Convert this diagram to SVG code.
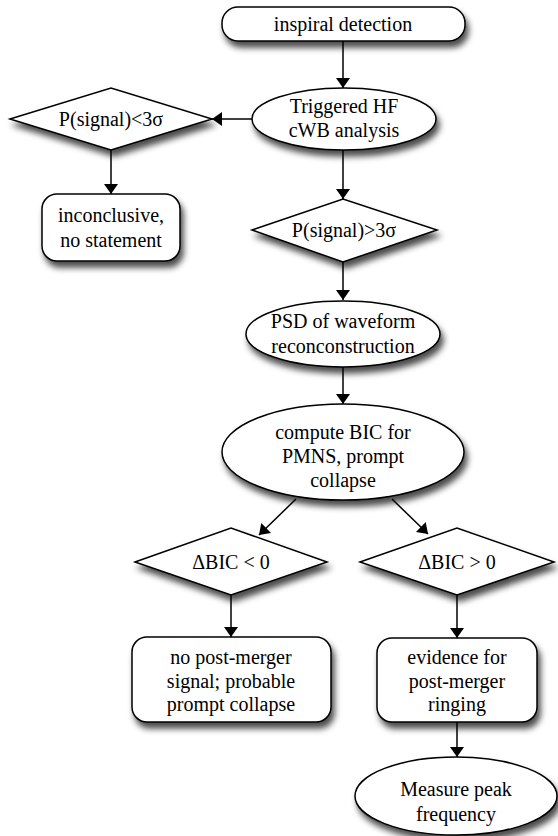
<svg xmlns="http://www.w3.org/2000/svg" width="558" height="836" viewBox="0 0 558 836">
<defs>
<filter id="sh" x="-20%" y="-20%" width="150%" height="160%">
<feDropShadow dx="3" dy="6" stdDeviation="3" flood-color="#000" flood-opacity="0.7"/>
</filter>
<marker id="ah" markerWidth="10" markerHeight="14" refX="10" refY="7" orient="auto" markerUnits="userSpaceOnUse" viewBox="0 0 10 14">
<path d="M0,0 L10,7 L0,14 z" fill="#000"/>
</marker>
</defs>
<style>
.n{fill:#fff;stroke:#000;stroke-width:1.5;filter:url(#sh)}
text{font-family:'Liberation Serif','Times New Roman','DejaVu Serif',serif;font-size:20px;fill:#000;text-anchor:middle}
.c{stroke:#000;stroke-width:1.5;fill:none;marker-end:url(#ah)}
</style>
<rect width="558" height="836" fill="#fff"/>
<g id="connectors">
<line class="c" x1="343" y1="41" x2="343" y2="88"/>
<line class="c" x1="252" y1="119" x2="212" y2="119"/>
<line class="c" x1="111" y1="150" x2="111" y2="194"/>
<line class="c" x1="343" y1="150" x2="343" y2="199"/>
<line class="c" x1="343" y1="262" x2="343" y2="300"/>
<line class="c" x1="343" y1="367" x2="343" y2="404"/>
<line class="c" x1="296" y1="499" x2="259" y2="535"/>
<line class="c" x1="392" y1="499" x2="428" y2="534"/>
<line class="c" x1="231" y1="595" x2="231" y2="637"/>
<line class="c" x1="457" y1="595" x2="457" y2="638"/>
<line class="c" x1="457" y1="722" x2="457" y2="757"/>
</g>
<g id="n1"><rect class="n" x="222" y="7" width="243" height="34" rx="16"/><text x="343" y="31">inspiral detection</text></g>
<g id="n2"><ellipse class="n" cx="344" cy="119" rx="92" ry="31"/><text x="344" y="113">Triggered HF</text><text x="344" y="137">cWB analysis</text></g>
<g id="n3"><polygon class="n" points="10,119 111,88 212,119 111,150"/><text x="111" y="126">P(signal)&lt;3σ</text></g>
<g id="n4"><rect class="n" x="42" y="194" width="138" height="67" rx="15"/><text x="111" y="222">inconclusive,</text><text x="111" y="247">no statement</text></g>
<g id="n5"><polygon class="n" points="252,230 343,199 437,230 343,262"/><text x="344" y="237">P(signal)&gt;3σ</text></g>
<g id="n6"><ellipse class="n" cx="343" cy="334" rx="97" ry="33"/><text x="343" y="328">PSD of waveform</text><text x="343" y="353">reconconstruction</text></g>
<g id="n7"><ellipse class="n" cx="343" cy="452" rx="121" ry="48"/><text x="343" y="439">compute BIC for</text><text x="343" y="463">PMNS, prompt</text><text x="343" y="487">collapse</text></g>
<g id="n8"><polygon class="n" points="135,562 231,528 327,562 231,595"/><text x="231" y="569">ΔBIC &lt; 0</text></g>
<g id="n9"><polygon class="n" points="360,562 457,528 554,562 457,595"/><text x="457" y="569">ΔBIC &gt; 0</text></g>
<g id="n10"><rect class="n" x="132" y="637" width="199" height="85" rx="15"/><text x="231" y="664">no post-merger</text><text x="231" y="688">signal; probable</text><text x="231" y="711">prompt collapse</text></g>
<g id="n11"><rect class="n" x="377" y="638" width="160" height="84" rx="15"/><text x="457" y="664">evidence for</text><text x="457" y="688">post-merger</text><text x="457" y="711">ringing</text></g>
<g id="n12"><ellipse class="n" cx="456" cy="796" rx="101" ry="39"/><text x="456" y="796">Measure peak</text><text x="456" y="821">frequency</text></g>
</svg>
